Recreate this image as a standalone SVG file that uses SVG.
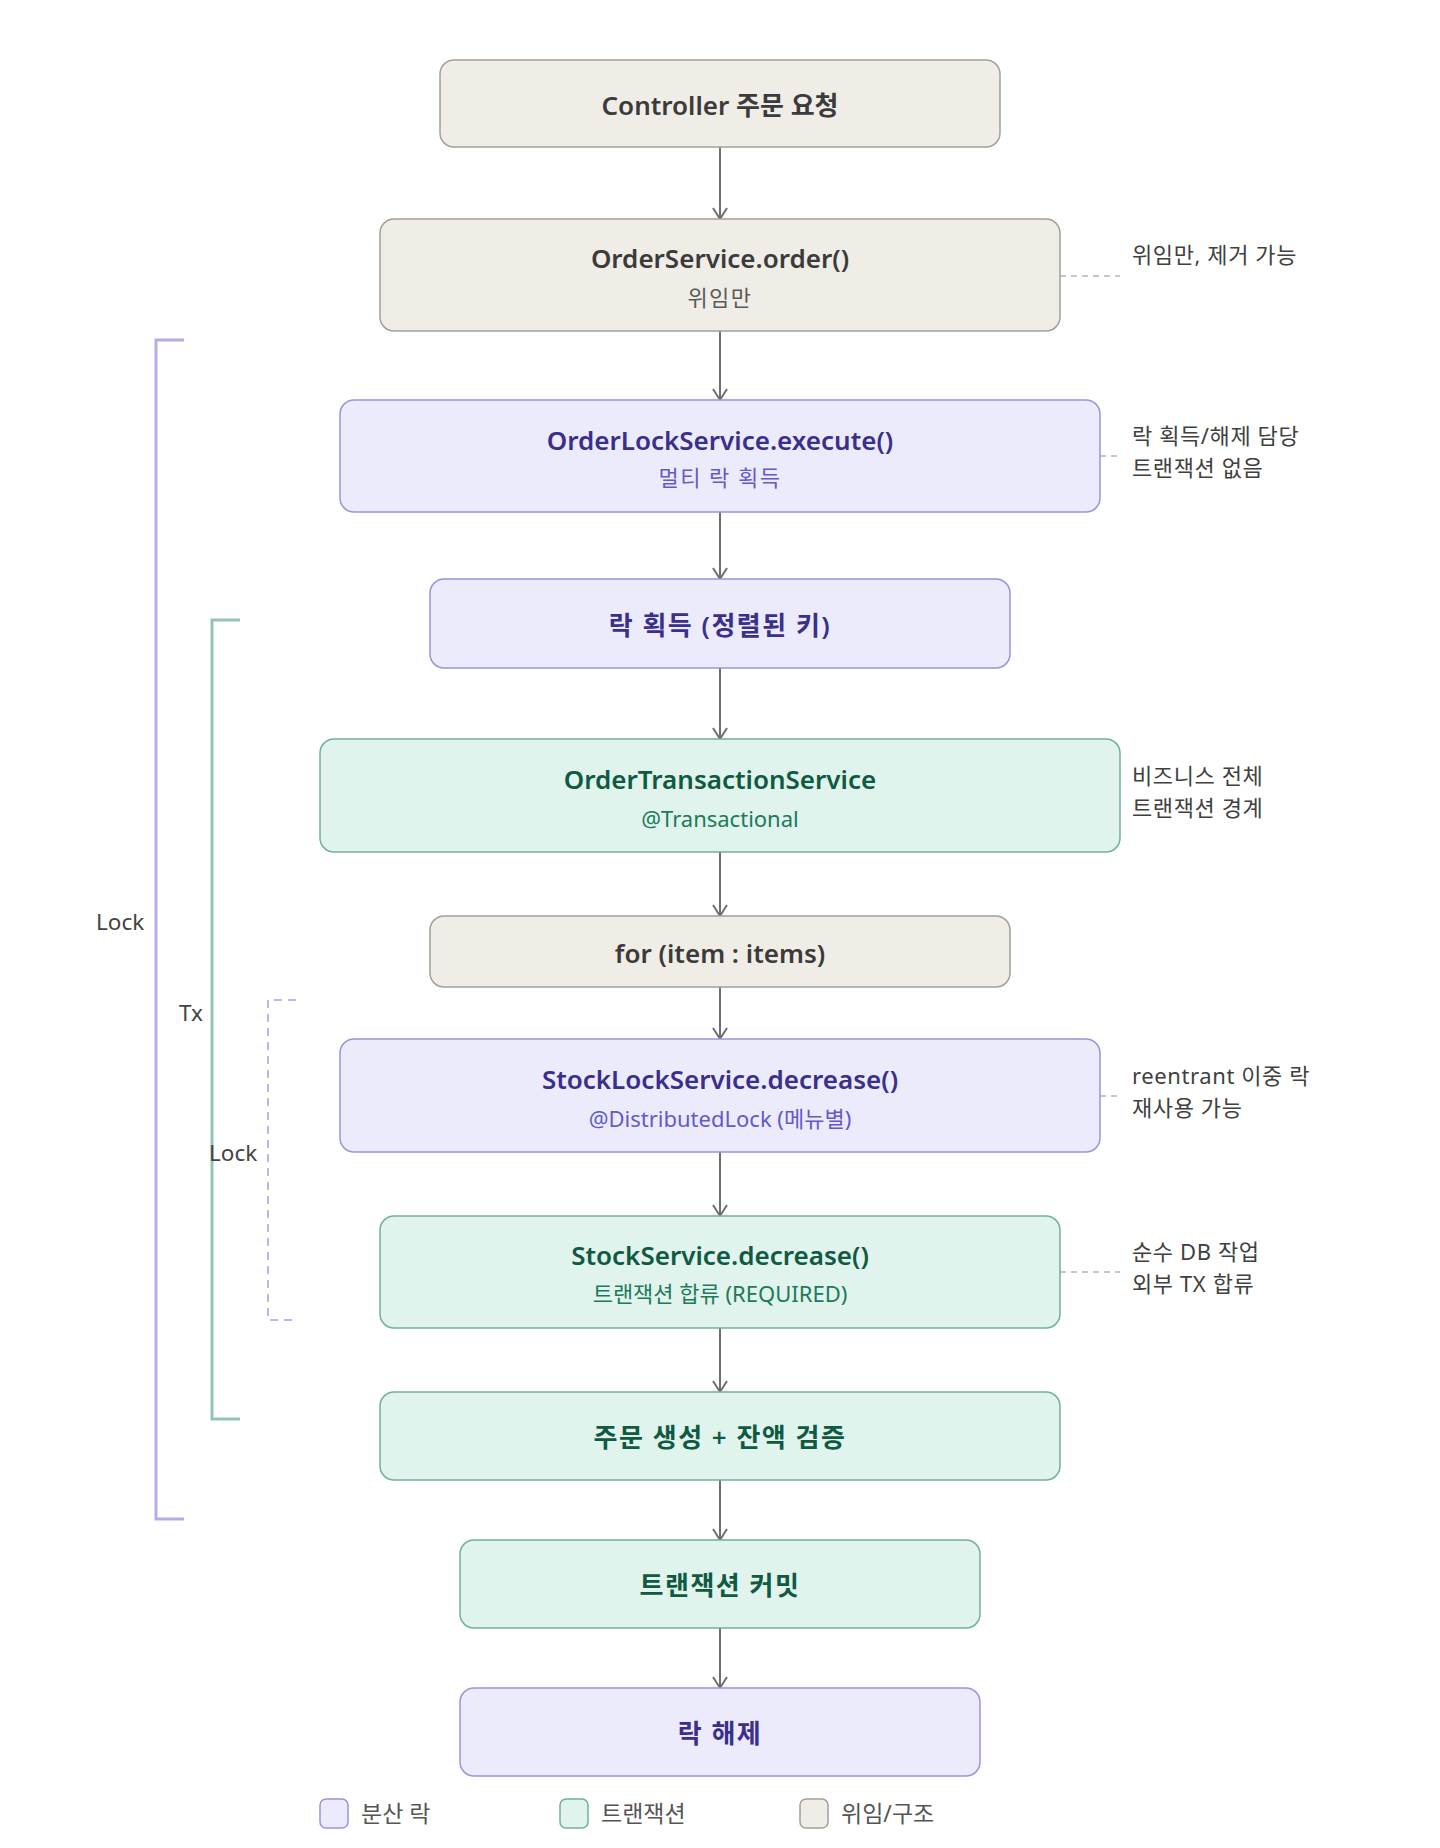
<svg xmlns="http://www.w3.org/2000/svg" width="1440" height="1848" viewBox="0 0 1440 1848">
<defs>
<marker id="arr" markerWidth="14" markerHeight="18" refX="12" refY="8" orient="auto" markerUnits="userSpaceOnUse" viewBox="0 0 14 16">
<path d="M1,1 L12,8 L1,15" fill="none" stroke="#6e6e6e" stroke-width="2"/>
</marker>
<style>
text{font-family:"Noto Sans","Noto Sans CJK KR",sans-serif;dominant-baseline:central}
.t{font-size:26px;font-weight:600;text-anchor:middle}
.k{letter-spacing:1.5px}
.s{font-size:22px;text-anchor:middle}
.beige rect{fill:#f0ede6;stroke:#a3a09b;stroke-width:1.5}
.beige .t{fill:#3b3b3b}.beige .s{fill:#5a5a5a}
.lock rect{fill:#ecebfc;stroke:#9a93dc;stroke-width:1.5}
.lock .t{fill:#3a2f8c}.lock .s{fill:#6459cc}
.tx rect{fill:#e0f3ec;stroke:#70b09c;stroke-width:1.5}
.tx .t{fill:#0f5a42}.tx .s{fill:#1d7a5b}
.ann{font-size:22px;fill:#404040;letter-spacing:0.6px}
.lbl{font-size:22.5px;fill:#444}
.edge{stroke:#6e6e6e;stroke-width:2;fill:none;marker-end:url(#arr)}
.dash{stroke:#b4b4b4;stroke-width:1.5;stroke-dasharray:6 5;fill:none}
.leg{font-size:23px;fill:#555}
</style>
</defs>
<rect width="1440" height="1848" fill="#ffffff"/>

<g id="brackets">
<path d="M184,340 H156 V1519 H184" fill="none" stroke="#b4aee6" stroke-width="3"/>
<path d="M240,620 H212 V1419 H240" fill="none" stroke="#93c5b5" stroke-width="3"/>
<path d="M296,1000 H268 V1320 H292" fill="none" stroke="#bcb6ea" stroke-width="2" stroke-dasharray="8 6"/>
<text class="lbl" x="96" y="921">Lock</text>
<text class="lbl" x="179" y="1012">Tx</text>
<text class="lbl" x="209" y="1152">Lock</text>
</g>

<g id="connectors">
<line class="edge" x1="720" y1="147" x2="720" y2="219"/>
<line class="edge" x1="720" y1="331" x2="720" y2="400"/>
<line class="edge" x1="720" y1="512" x2="720" y2="579"/>
<line class="edge" x1="720" y1="668" x2="720" y2="739"/>
<line class="edge" x1="720" y1="852" x2="720" y2="916"/>
<line class="edge" x1="720" y1="987" x2="720" y2="1039"/>
<line class="edge" x1="720" y1="1152" x2="720" y2="1216"/>
<line class="edge" x1="720" y1="1328" x2="720" y2="1392"/>
<line class="edge" x1="720" y1="1480" x2="720" y2="1540"/>
<line class="edge" x1="720" y1="1628" x2="720" y2="1688"/>
<line class="dash" x1="1060" y1="276" x2="1120" y2="276"/>
<line class="dash" x1="1100" y1="456" x2="1120" y2="456"/>
<line class="dash" x1="1100" y1="1096" x2="1120" y2="1096"/>
<line class="dash" x1="1060" y1="1272" x2="1120" y2="1272"/>
</g>

<g id="n1" class="beige">
<rect x="440" y="60" width="560" height="87" rx="14"/>
<text class="t" x="720" y="105">Controller 주문 요청</text>
</g>
<g id="n2" class="beige">
<rect x="380" y="219" width="680" height="112" rx="14"/>
<text class="t" x="720" y="258">OrderService.order()</text>
<text class="s k" x="720" y="297">위임만</text>
</g>
<g id="n3" class="lock">
<rect x="340" y="400" width="760" height="112" rx="14"/>
<text class="t" x="720" y="440">OrderLockService.execute()</text>
<text class="s k" x="720" y="477">멀티 락 획득</text>
</g>
<g id="n4" class="lock">
<rect x="430" y="579" width="580" height="89" rx="14"/>
<text class="t k" x="720" y="625">락 획득 (정렬된 키)</text>
</g>
<g id="n5" class="tx">
<rect x="320" y="739" width="800" height="113" rx="14"/>
<text class="t" x="720" y="779">OrderTransactionService</text>
<text class="s" x="720" y="818">@Transactional</text>
</g>
<g id="n6" class="beige">
<rect x="430" y="916" width="580" height="71" rx="14"/>
<text class="t" x="720" y="953">for (item : items)</text>
</g>
<g id="n7" class="lock">
<rect x="340" y="1039" width="760" height="113" rx="14"/>
<text class="t" x="720" y="1079">StockLockService.decrease()</text>
<text class="s" x="720" y="1118">@DistributedLock (메뉴별)</text>
</g>
<g id="n8" class="tx">
<rect x="380" y="1216" width="680" height="112" rx="14"/>
<text class="t" x="720" y="1255">StockService.decrease()</text>
<text class="s" x="720" y="1293">트랜잭션 합류 (REQUIRED)</text>
</g>
<g id="n9" class="tx">
<rect x="380" y="1392" width="680" height="88" rx="14"/>
<text class="t k" x="720" y="1437">주문 생성 + 잔액 검증</text>
</g>
<g id="n10" class="tx">
<rect x="460" y="1540" width="520" height="88" rx="14"/>
<text class="t k" x="720" y="1585">트랜잭션 커밋</text>
</g>
<g id="n11" class="lock">
<rect x="460" y="1688" width="520" height="88" rx="14"/>
<text class="t k" x="720" y="1733">락 해제</text>
</g>

<g id="annotations">
<text class="ann" x="1132" y="254">위임만, 제거 가능</text>
<text class="ann" x="1132" y="435">락 획득/해제 담당</text>
<text class="ann" x="1132" y="467">트랜잭션 없음</text>
<text class="ann" x="1132" y="775">비즈니스 전체</text>
<text class="ann" x="1132" y="807">트랜잭션 경계</text>
<text class="ann" x="1132" y="1075">reentrant 이중 락</text>
<text class="ann" x="1132" y="1107">재사용 가능</text>
<text class="ann" x="1132" y="1251">순수 DB 작업</text>
<text class="ann" x="1132" y="1283">외부 TX 합류</text>
</g>

<g id="legend">
<rect x="320" y="1799" width="28" height="29" rx="6" fill="#ecebfc" stroke="#9a93dc" stroke-width="1.5"/>
<text class="leg" x="361" y="1813">분산 락</text>
<rect x="560" y="1799" width="28" height="29" rx="6" fill="#e0f3ec" stroke="#70b09c" stroke-width="1.5"/>
<text class="leg" x="601" y="1813">트랜잭션</text>
<rect x="800" y="1799" width="28" height="29" rx="6" fill="#f0ede6" stroke="#a3a09b" stroke-width="1.5"/>
<text class="leg" x="841" y="1813">위임/구조</text>
</g>
</svg>
